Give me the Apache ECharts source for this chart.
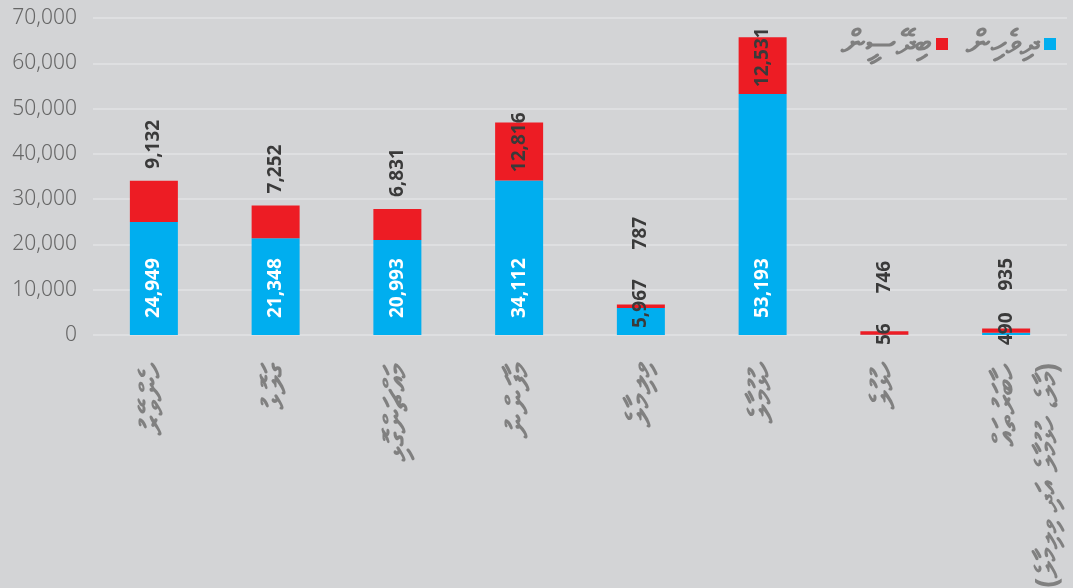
<!DOCTYPE html>
<html>
<head>
<meta charset="utf-8">
<script src="https://cdn.jsdelivr.net/npm/echarts@6/dist/echarts.min.js"></script>
<style>
  html, body { margin: 0; padding: 0; background: #d3d4d6; }
  #chart { width: 1073px; height: 588px; }
</style>
</head>
<body>
<div id="chart"></div>
<script>
// categories (Malé City wards), read top-to-bottom in the rotated labels
const categories = [
  "ހެންވޭރު",
  "ގަލޮޅު",
  "މައްޗަންގޮޅި",
  "މާފަންނު",
  "ވިލިމާލެ",
  "ހުޅުމާލެ",
  "ހުޅުލެ",
  "ހާބަރުތައް\n(މާލެ، ހުޅުމާލެ އަދި ވިލިމާލެ)"
];
const seriesNames = ["ދިވެހިން", "ބިދޭސީން"];
const maldivians = [24949, 21348, 20993, 34112, 5967, 53193, 56, 490];
const foreigners = [9132, 7252, 6831, 12816, 787, 12531, 746, 935];
const yTicks = [0, 10000, 20000, 30000, 40000, 50000, 60000, 70000];

const BLUE = "#00aeef";
const RED = "#ed1c24";
const fmt = (v) => Number(v).toLocaleString("en-US");

const labelBase = {
  show: true,
  rotate: 90,
  verticalAlign: "middle",
  fontFamily: "Noto Sans",
  fontWeight: "bold",
  fontSize: 19,
  formatter: (p) => fmt(p.value)
};

// blue labels sit inside the bar, small ones drop out in dark text
const blueData = maldivians.map((v) => {
  let label;
  if (v >= 10000) {
    label = { position: "insideBottom", distance: 17, align: "left", color: "#ffffff" };
  } else if (v >= 1000) {
    label = { position: "insideBottom", distance: 7, align: "left", color: "#3a3a3a" };
  } else {
    label = { position: "bottom", distance: 10, align: "left", color: "#3a3a3a" };
  }
  return { value: v, label: label };
});

const redData = foreigners.map((v, i) => {
  const total = v + maldivians[i];
  let label;
  if (v >= 10000) {
    label = { position: "top", distance: 10, align: "right", color: "#3a3a3a" };
  } else if (total < 2000) {
    label = { position: "top", distance: 38, align: "left", color: "#3a3a3a" };
  } else if (maldivians[i] < 10000) {
    // make room for the blue label that sticks out of the short bar
    label = { position: "top", distance: 55, align: "left", color: "#3a3a3a" };
  } else {
    label = { position: "top", distance: 12, align: "left", color: "#3a3a3a" };
  }
  return { value: v, label: label };
});

const catFont = { color: "#808080", fontFamily: "Noto Sans", fontWeight: "bold" };

// the two-line label keeps its first line on the tick: an empty line is
// put before it so the block stays centred on the main name
const catFormatter = (v) => {
  if (v.indexOf("\n") < 0) return "{m|" + v + "}";
  const parts = v.split("\n");
  return "{sp| }\n{m|" + parts[0] + "}\n{s|" + parts[1] + "}";
};

const chart = echarts.init(document.getElementById("chart"), null, { renderer: "canvas" });

const option = {
  backgroundColor: "#d3d4d6",
  animation: false,
  textStyle: { fontFamily: "Noto Sans" },
  legend: {
    data: [seriesNames[1], seriesNames[0]],
    right: 12,
    top: 22,
    align: "right",
    icon: "rect",
    itemWidth: 12,
    itemHeight: 12,
    itemGap: 18,
    textStyle: { color: "#7f7f7f", fontSize: 34, fontWeight: "bold" }
  },
  grid: {
    left: 93,
    right: 6,
    top: 18,
    bottom: 253,
    containLabel: false,
    outerBoundsMode: "none"
  },
  xAxis: {
    type: "category",
    data: categories,
    axisLine: { show: false },
    axisTick: { show: false },
    axisLabel: {
      interval: 0,
      rotate: 90,
      margin: 28,
      formatter: catFormatter,
      rich: {
        m: Object.assign({ fontSize: 33, lineHeight: 42 }, catFont),
        s: Object.assign({ fontSize: 30, lineHeight: 42 }, catFont),
        sp: Object.assign({ fontSize: 30, lineHeight: 42 }, catFont)
      }
    }
  },
  yAxis: {
    type: "value",
    min: yTicks[0],
    max: yTicks[yTicks.length - 1],
    interval: yTicks[1] - yTicks[0],
    axisLine: { show: false },
    axisTick: { show: false },
    splitLine: { lineStyle: { color: "#e2e3e5", width: 1.5 } },
    axisLabel: {
      margin: 16,
      color: "#666666",
      fontSize: 21,
      fontWeight: 300,
      formatter: (v) => fmt(v)
    }
  },
  series: [
    {
      name: seriesNames[0],
      type: "bar",
      stack: "total",
      barWidth: 48,
      itemStyle: { color: BLUE },
      label: labelBase,
      data: blueData
    },
    {
      name: seriesNames[1],
      type: "bar",
      stack: "total",
      barWidth: 48,
      itemStyle: { color: RED },
      label: labelBase,
      data: redData
    }
  ]
};

chart.setOption(option);
</script>
</body>
</html>
